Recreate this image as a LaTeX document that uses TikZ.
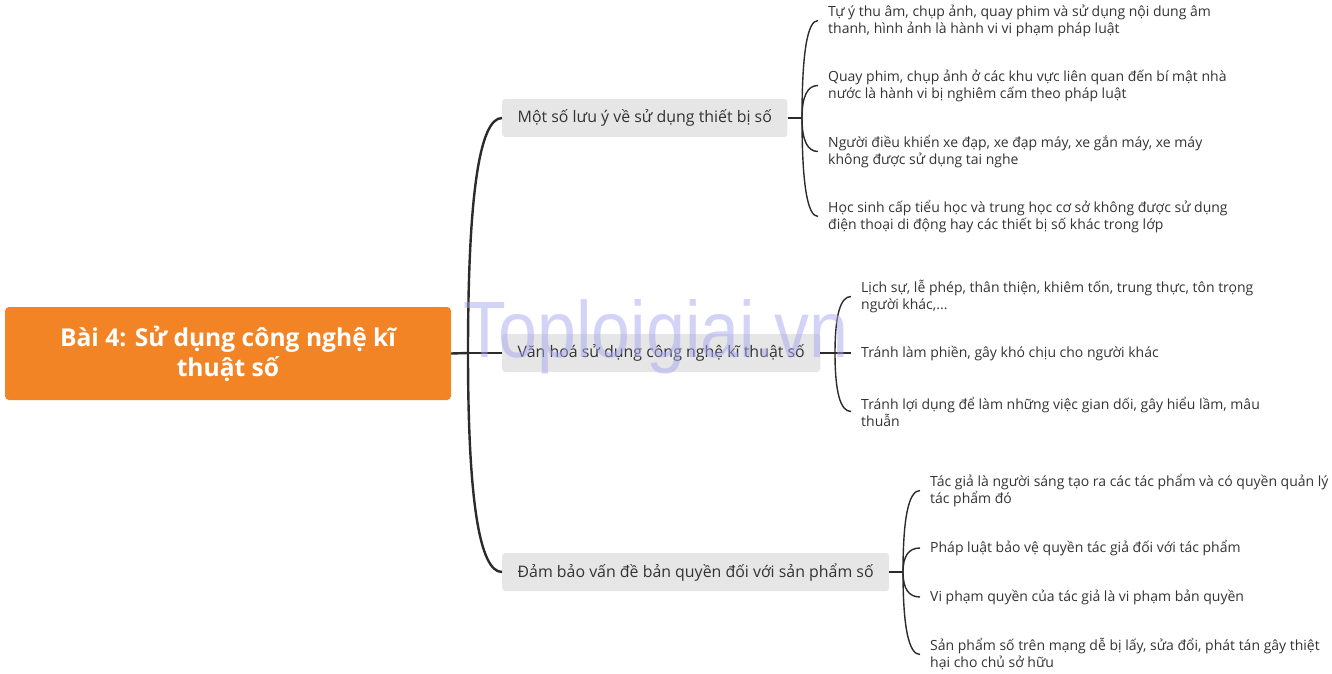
\documentclass[tikz,border=0pt]{standalone}
\usepackage{fontspec}
\setmainfont{Open Sans}
\newfontfamily\wmfont{Liberation Sans}
\usetikzlibrary{calc}
\definecolor{rootorange}{HTML}{F28426}
\definecolor{boxgray}{HTML}{E6E6E6}
\definecolor{ink}{HTML}{333333}
\definecolor{lineink}{HTML}{2B2B2B}
\definecolor{wmcolor}{HTML}{A8A8F0}
\begin{document}
\begin{tikzpicture}[x=1pt,y=-1pt,
  rootbox/.style={fill=rootorange, rounded corners=4pt, text=white,
    font=\fontsize{24.6}{30}\selectfont\bfseries, align=center,
    minimum width=446pt, minimum height=93pt, inner sep=0pt},
  branchbox/.style={fill=boxgray, rounded corners=3pt, text=ink,
    font=\fontsize{15.9}{18}\selectfont, minimum height=38pt,
    inner xsep=15.5pt, inner ysep=0pt, anchor=west},
  leaf/.style={text=ink, font=\fontsize{14}{17}\selectfont, align=left,
    inner xsep=10pt, inner ysep=0pt, anchor=west},
  trunk/.style={draw=lineink, line width=2.4pt},
  twig/.style={draw=lineink, line width=1.4pt},
  bendto/.style={to path={.. controls ($(\tikztostart)!2/3!(\tikztostart|-\tikztotarget)$)
      and ($(\tikztotarget)!2/3!(\tikztostart|-\tikztotarget)$) .. (\tikztotarget)}},
]
\useasboundingbox (0,0) rectangle (1332,674);

% root
\node[rootbox] (root) at (228,353.5) {Bài 4: Sử dụng công nghệ kĩ\\thuật số};

% branches
\node[branchbox] (b1) at (502,118) {Một số lưu ý về sử dụng thiết bị số};
\node[branchbox] (b2) at (502,353) {Văn hoá sử dụng công nghệ kĩ thuật số};
\node[branchbox] (b3) at (502,572) {Đảm bảo vấn đề bản quyền đối với sản phẩm số};

% junctions
\coordinate (J0) at (468,353);
\coordinate (J1) at (802,118);
\coordinate (J2) at (835,353);
\coordinate (J3) at (903,572);

% leaves of branch 1
\node[leaf] (l11) at (818,20.5) {Tự ý thu âm, chụp ảnh, quay phim và sử dụng nội dung âm\\thanh, hình ảnh là hành vi vi phạm pháp luật};
\node[leaf] (l12) at (818,85.5) {Quay phim, chụp ảnh ở các khu vực liên quan đến bí mật nhà\\nước là hành vi bị nghiêm cấm theo pháp luật};
\node[leaf] (l13) at (818,151.5) {Người điều khiển xe đạp, xe đạp máy, xe gắn máy, xe máy\\không được sử dụng tai nghe};
\node[leaf] (l14) at (818,216.5) {Học sinh cấp tiểu học và trung học cơ sở không được sử dụng\\điện thoại di động hay các thiết bị số khác trong lớp};

% leaves of branch 2
\node[leaf] (l21) at (851,296.5) {Lịch sự, lễ phép, thân thiện, khiêm tốn, trung thực, tôn trọng\\người khác,...};
\node[leaf] (l22) at (851,353) {Tránh làm phiền, gây khó chịu cho người khác};
\node[leaf] (l23) at (851,411.5) {Tránh lợi dụng để làm những việc gian dối, gây hiểu lầm, mâu\\thuẫn};

% leaves of branch 3
\node[leaf] (l31) at (920,490.5) {Tác giả là người sáng tạo ra các tác phẩm và có quyền quản lý\\tác phẩm đó};
\node[leaf] (l32) at (920,548) {Pháp luật bảo vệ quyền tác giả đối với tác phẩm};
\node[leaf] (l33) at (920,597) {Vi phạm quyền của tác giả là vi phạm bản quyền};
\node[leaf] (l34) at (920,654.5) {Sản phẩm số trên mạng dễ bị lấy, sửa đổi, phát tán gây thiệt\\hại cho chủ sở hữu};

% trunk connectors
\draw[trunk] (root.east) -- (J0);
\draw[trunk] (J0) to[bendto] (b1.west);
\draw[trunk] (J0) -- (b2.west);
\draw[trunk] (J0) to[bendto] (b3.west);

% twigs
\draw[twig] (b1.east) -- (J1);
\foreach \l in {l11,l12,l13,l14} \draw[twig] (J1) to[bendto] (\l.west);
\draw[twig] (b2.east) -- (J2);
\foreach \l in {l21,l23} \draw[twig] (J2) to[bendto] (\l.west);
\draw[twig] (J2) -- (l22.west);
\draw[twig] (b3.east) -- (J3);
\foreach \l in {l31,l32,l33,l34} \draw[twig] (J3) to[bendto] (\l.west);

% watermark
\node[text=wmcolor, opacity=0.5, font=\wmfont\fontsize{80}{80}\selectfont,
  anchor=base west, inner sep=0pt, xscale=0.875] (wm) at (463,357) {Toploigiai.vn};
\end{tikzpicture}
\end{document}
